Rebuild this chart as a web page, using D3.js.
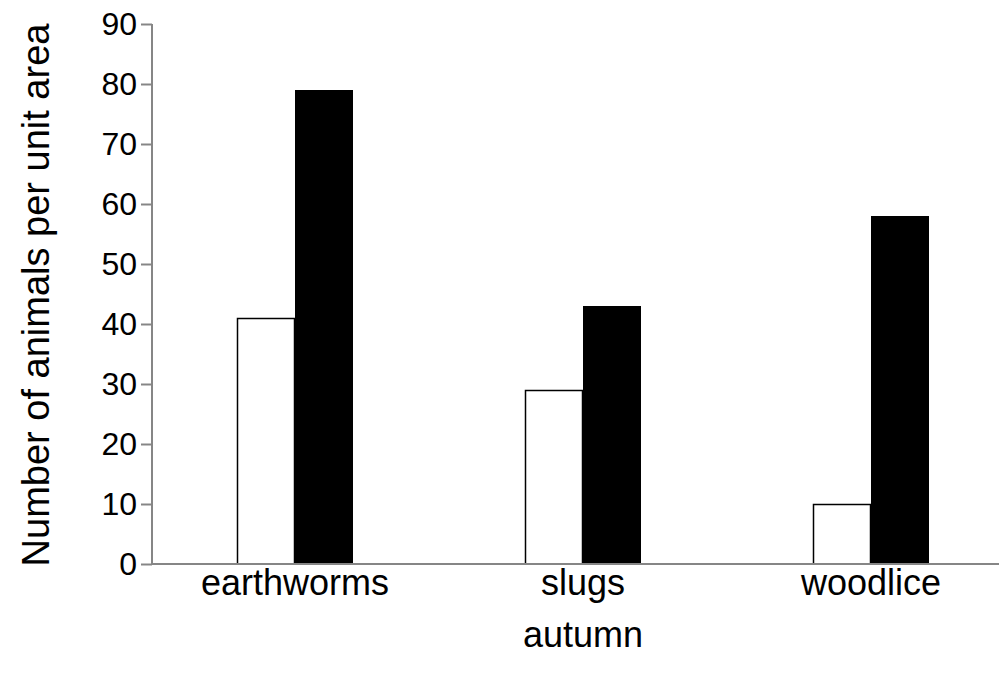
<!DOCTYPE html>
<html>
<head>
<meta charset="utf-8">
<script src="https://cdn.jsdelivr.net/npm/d3@7"></script>
<style>
  html, body { margin: 0; padding: 0; background: #fff; }
  svg { display: block; font-family: "Liberation Sans", Arial, sans-serif; }
</style>
</head>
<body>
<svg id="chart" width="999" height="681"></svg>
<script>
const categories = ["earthworms", "slugs", "woodlice"];
const seriesNames = ["series1", "series2"];
const series1 = [41, 29, 10];
const series2 = [79, 43, 58];
const yTicks = [0, 10, 20, 30, 40, 50, 60, 70, 80, 90];
const xTitle = "autumn";
const yTitle = "Number of animals per unit area";

const svg = d3.select("#chart");
const axisColor = "#868686";

const x = d3.scaleBand().domain(categories).range([151, 1015]).padding(0);
const y = d3.scaleLinear().domain([0, 90]).range([564, 24]);
const barW = 58;

const data = categories.map((c, i) => ({ cat: c, vals: [series1[i], series2[i]] }));

// bars
const groups = svg.append("g").selectAll("g").data(data).join("g");
groups.each(function(d) {
  const center = x(d.cat) + x.bandwidth() / 2;
  const g = d3.select(this);
  d.vals.forEach((v, si) => {
    const x0 = center - barW + si * barW;
    g.append("rect")
      .attr("x", si === 0 ? x0 + 0.5 : x0)
      .attr("y", y(v) + (si === 0 ? 0.5 : 0))
      .attr("width", si === 0 ? barW - 1 : barW)
      .attr("height", y(0) - y(v) - (si === 0 ? 0.5 : 0))
      .attr("fill", si === 0 ? "#ffffff" : "#000000")
      .attr("stroke", si === 0 ? "#000000" : "none")
      .attr("stroke-width", si === 0 ? 1.5 : 0);
  });
});

// y axis
const yAxis = d3.axisLeft(y).tickValues(yTicks).tickSize(11).tickPadding(4).tickFormat(d3.format("d"));
const yg = svg.append("g").attr("transform", "translate(152,0)").call(yAxis);
yg.select(".domain").attr("stroke", axisColor).attr("stroke-width", 2).attr("d", `M0,${y(90)}V${y(0)}`);
yg.selectAll(".tick line").attr("stroke", axisColor).attr("stroke-width", 2);
yg.selectAll(".tick text").attr("fill", "#000").attr("font-size", 32).attr("font-family", "Liberation Sans, Arial, sans-serif");

// x axis
const xAxis = d3.axisBottom(x).tickSize(0).tickPadding(0);
const xg = svg.append("g").attr("transform", `translate(0,${y(0)})`).call(xAxis);
xg.select(".domain").attr("stroke", axisColor).attr("stroke-width", 2).attr("d", `M152,0H999`);
xg.selectAll(".tick text")
  .attr("fill", "#000")
  .attr("font-size", 36)
  .attr("font-family", "Liberation Sans, Arial, sans-serif")
  .attr("dy", null)
  .attr("y", 31);

// x title
svg.append("text")
  .attr("x", x("slugs") + x.bandwidth() / 2)
  .attr("y", 647)
  .attr("text-anchor", "middle")
  .attr("font-size", 36)
  .attr("fill", "#000")
  .text(xTitle);

// y title
svg.append("text")
  .attr("transform", `translate(49,${(22 + 568) / 2}) rotate(-90)`)
  .attr("text-anchor", "middle")
  .attr("font-size", 38)
  .attr("fill", "#000")
  .text(yTitle);
</script>
</body>
</html>
